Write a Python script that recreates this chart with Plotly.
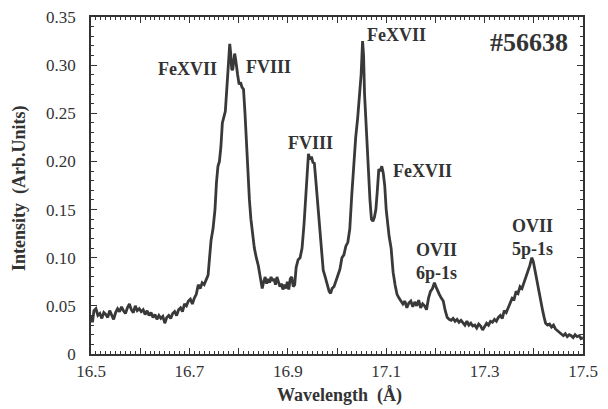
import plotly.graph_objects as go

wavelength = [
    16.500, 16.503, 16.506, 16.510, 16.514, 16.518, 16.522, 16.526, 16.530, 16.534,
    16.538, 16.542, 16.546, 16.550, 16.554, 16.558, 16.562, 16.566, 16.570, 16.574,
    16.578, 16.582, 16.586, 16.590, 16.594, 16.598, 16.602, 16.606, 16.610, 16.614,
    16.618, 16.622, 16.626, 16.630, 16.634, 16.638, 16.642, 16.646, 16.650, 16.654,
    16.658, 16.662, 16.666, 16.670, 16.674, 16.678, 16.682, 16.686, 16.690, 16.694,
    16.698, 16.702, 16.706, 16.710, 16.714, 16.718, 16.722, 16.726, 16.730, 16.734,
    16.738, 16.741, 16.744, 16.748, 16.752, 16.755, 16.758, 16.761, 16.764, 16.767,
    16.770, 16.773, 16.776, 16.779, 16.782, 16.784, 16.786, 16.788, 16.790, 16.792,
    16.794, 16.796, 16.798, 16.801, 16.804, 16.807, 16.810, 16.813, 16.816, 16.819,
    16.822, 16.825, 16.828, 16.832, 16.836, 16.840, 16.844, 16.848, 16.851, 16.854,
    16.857, 16.860, 16.863, 16.866, 16.869, 16.872, 16.875, 16.878, 16.881, 16.884,
    16.887, 16.890, 16.893, 16.896, 16.899, 16.902, 16.905, 16.908, 16.911, 16.914,
    16.917, 16.921, 16.925, 16.929, 16.933, 16.936, 16.939, 16.942, 16.945, 16.948,
    16.951, 16.954, 16.957, 16.960, 16.963, 16.966, 16.969, 16.972, 16.976, 16.980,
    16.984, 16.987, 16.990, 16.994, 16.998, 17.002, 17.006, 17.010, 17.014, 17.018,
    17.022, 17.026, 17.030, 17.034, 17.038, 17.042, 17.046, 17.049, 17.052, 17.054,
    17.056, 17.058, 17.061, 17.064, 17.067, 17.070, 17.073, 17.076, 17.079, 17.082,
    17.085, 17.088, 17.091, 17.094, 17.097, 17.100, 17.103, 17.106, 17.110, 17.114,
    17.118, 17.122, 17.126, 17.130, 17.134, 17.138, 17.142, 17.146, 17.150, 17.154,
    17.158, 17.162, 17.166, 17.170, 17.174, 17.178, 17.182, 17.186, 17.190, 17.194,
    17.198, 17.201, 17.204, 17.208, 17.212, 17.216, 17.220, 17.224, 17.228, 17.232,
    17.236, 17.240, 17.244, 17.248, 17.252, 17.256, 17.260, 17.264, 17.268, 17.272,
    17.276, 17.280, 17.284, 17.288, 17.292, 17.296, 17.300, 17.304, 17.308, 17.312,
    17.316, 17.320, 17.324, 17.328, 17.332, 17.336, 17.340, 17.344, 17.348, 17.352,
    17.356, 17.360, 17.364, 17.368, 17.372, 17.376, 17.380, 17.384, 17.388, 17.392,
    17.396, 17.399, 17.402, 17.405, 17.408, 17.411, 17.414, 17.418, 17.421, 17.424,
    17.428, 17.432, 17.436, 17.440, 17.444, 17.448, 17.452, 17.456, 17.460, 17.464,
    17.468, 17.472, 17.476, 17.480, 17.484, 17.488, 17.492, 17.496, 17.500,
]

intensity = [
    0.040, 0.033, 0.045, 0.047, 0.040, 0.042, 0.037, 0.043, 0.041, 0.038,
    0.045, 0.040, 0.036, 0.043, 0.047, 0.044, 0.049, 0.045, 0.042, 0.048,
    0.052, 0.046, 0.043, 0.050, 0.045, 0.047, 0.044, 0.046, 0.041, 0.045,
    0.040, 0.043, 0.038, 0.041, 0.036, 0.040, 0.037, 0.039, 0.032, 0.038,
    0.040, 0.037, 0.042, 0.044, 0.040, 0.046, 0.048, 0.044, 0.052, 0.050,
    0.055, 0.057, 0.052, 0.058, 0.062, 0.072, 0.068, 0.074, 0.072, 0.077,
    0.082, 0.100, 0.118, 0.130, 0.150, 0.178, 0.195, 0.200, 0.215, 0.240,
    0.248, 0.252, 0.275, 0.300, 0.322, 0.312, 0.296, 0.295, 0.305, 0.312,
    0.306, 0.294, 0.290, 0.280, 0.282, 0.277, 0.275, 0.250, 0.215, 0.190,
    0.160, 0.140, 0.125, 0.110, 0.100, 0.092, 0.080, 0.068, 0.075, 0.080,
    0.073, 0.078, 0.074, 0.080, 0.076, 0.078, 0.072, 0.080, 0.075, 0.070,
    0.073, 0.067, 0.072, 0.068, 0.075, 0.067, 0.078, 0.080, 0.070, 0.072,
    0.090, 0.098, 0.100, 0.110, 0.135, 0.160, 0.190, 0.208, 0.202, 0.205,
    0.199, 0.198, 0.180, 0.160, 0.140, 0.120, 0.098, 0.087, 0.080, 0.072,
    0.065, 0.063, 0.068, 0.070, 0.075, 0.082, 0.088, 0.100, 0.103, 0.112,
    0.116, 0.130, 0.165, 0.200, 0.225, 0.245, 0.268, 0.290, 0.325, 0.310,
    0.270, 0.250, 0.210, 0.185, 0.160, 0.140, 0.138, 0.142, 0.150, 0.170,
    0.192, 0.190, 0.195, 0.188, 0.175, 0.150, 0.135, 0.122, 0.110, 0.085,
    0.072, 0.062, 0.058, 0.055, 0.052, 0.055, 0.048, 0.053, 0.055, 0.049,
    0.054, 0.050, 0.056, 0.048, 0.052, 0.050, 0.046, 0.058, 0.065, 0.068,
    0.074, 0.070, 0.066, 0.062, 0.058, 0.055, 0.045, 0.038, 0.036, 0.035,
    0.037, 0.034, 0.036, 0.033, 0.035, 0.033, 0.030, 0.034, 0.030, 0.032,
    0.029, 0.030, 0.027, 0.031, 0.029, 0.025, 0.028, 0.032, 0.030, 0.034,
    0.033, 0.036, 0.034, 0.038, 0.040, 0.037, 0.045, 0.043, 0.048, 0.053,
    0.058, 0.057, 0.065, 0.063, 0.070, 0.068, 0.074, 0.078, 0.085, 0.092,
    0.100, 0.096, 0.088, 0.080, 0.068, 0.060, 0.052, 0.045, 0.038, 0.032,
    0.030, 0.031, 0.028, 0.030, 0.026, 0.024, 0.022, 0.020, 0.019, 0.021,
    0.018, 0.020, 0.019, 0.017, 0.020, 0.018, 0.019, 0.016, 0.017,
]

x_tick_vals = [16.5, 16.6, 16.7, 16.8, 16.9, 17.0, 17.1, 17.2, 17.3, 17.4, 17.5]
x_tick_text = ["16.5", "", "16.7", "", "16.9", "", "17.1", "", "17.3", "", "17.5"]
y_tick_vals = [0, 0.05, 0.10, 0.15, 0.20, 0.25, 0.30, 0.35]
y_tick_text = ["0", "0.05", "0.10", "0.15", "0.20", "0.25", "0.30", "0.35"]

label_text = ["FeXVII", "FVIII", "FVIII", "FeXVII", "FeXVII", "OVII<br>6p-1s", "OVII<br>5p-1s"]
label_x = [16.697, 16.860, 16.947, 17.120, 17.173, 17.203, 17.398]
label_y = [0.296, 0.298, 0.2195, 0.331, 0.1905, 0.0963, 0.121]

shot_text = "#56638"
shot_x = 17.390
shot_y = 0.324

x_title = "Wavelength  (Å)"
y_title = "Intensity  (Arb.Units)"

SERIF = "Liberation Serif, Times New Roman, serif"
INK = "#333333"

fig = go.Figure()
fig.add_trace(go.Scatter(
    x=wavelength, y=intensity, mode="lines",
    line=dict(color="#393939", width=2.8),
    showlegend=False, hoverinfo="skip",
))

for t, lx, ly in zip(label_text, label_x, label_y):
    fig.add_annotation(x=lx, y=ly, text="<b>" + t + "</b>", showarrow=False,
                       font=dict(family=SERIF, size=18, color=INK),
                       xanchor="center", yanchor="middle")

fig.add_annotation(x=shot_x, y=shot_y, text="<b>" + shot_text + "</b>", showarrow=False,
                   font=dict(family=SERIF, size=26, color=INK),
                   xanchor="center", yanchor="middle")

fig.add_annotation(xref="paper", yref="paper", x=0.506, y=-0.1217,
                   text="<b>" + x_title + "</b>", showarrow=False,
                   font=dict(family=SERIF, size=18, color=INK),
                   xanchor="center", yanchor="middle")
fig.add_annotation(xref="paper", yref="paper", x=-0.1443, y=0.4926,
                   text="<b>" + y_title + "</b>", showarrow=False, textangle=-90,
                   font=dict(family=SERIF, size=18, color=INK),
                   xanchor="center", yanchor="middle")

axis_common = dict(
    showline=True, linecolor=INK, linewidth=1.6, mirror="ticks",
    ticks="inside", tickcolor=INK, tickwidth=1.2, ticklen=6,
    showgrid=False, zeroline=False, automargin=False,
    ticklabeloverflow="allow",
    tickfont=dict(family=SERIF, size=17, color=INK),
)

fig.update_xaxes(
    range=[16.5, 17.5], tickmode="array", tickvals=x_tick_vals, ticktext=x_tick_text,
    minor=dict(ticks="inside", dtick=0.01, ticklen=3, tickcolor=INK, tickwidth=1),
    ticklabelstandoff=1,
    **axis_common,
)
fig.update_yaxes(
    range=[0, 0.35], tickmode="array", tickvals=y_tick_vals, ticktext=y_tick_text,
    minor=dict(ticks="inside", dtick=0.01, ticklen=3, tickcolor=INK, tickwidth=1),
    ticklabelstandoff=10,
    **axis_common,
)

# The page body adds an 8px margin, so the figure is 8px smaller and its margins
# are shifted to keep the plot frame where the reference has it.
fig.update_layout(
    width=600, height=401,
    margin=dict(l=83, r=25, t=9, b=55),
    paper_bgcolor="white", plot_bgcolor="white",
)

fig.write_html("out.html")
